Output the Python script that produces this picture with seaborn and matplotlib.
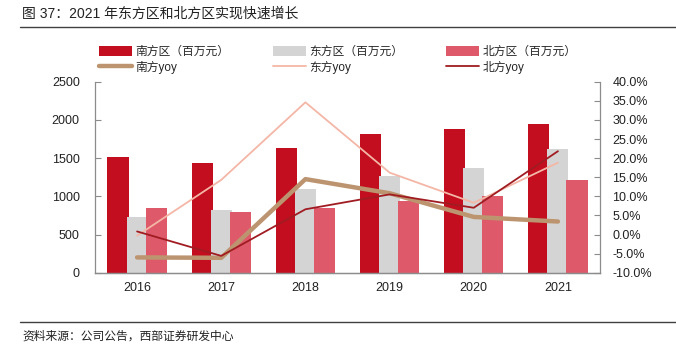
import numpy as np
import pandas as pd
import seaborn as sns
import matplotlib.pyplot as plt
from matplotlib.patches import Patch
from matplotlib.lines import Line2D
from matplotlib.ticker import FuncFormatter, MultipleLocator, FixedLocator

# data
years = ['2016', '2017', '2018', '2019', '2020', '2021']
south_rev = [1519, 1433, 1637, 1812, 1882, 1951]
east_rev = [725, 821, 1096, 1266, 1371, 1624]
north_rev = [843, 794, 847, 939, 1000, 1218]
south_yoy = [-6.0, -6.1, 14.5, 10.8, 4.6, 3.4]
east_yoy = [-0.3, 14.3, 34.6, 16.2, 8.3, 18.8]
north_yoy = [0.8, -5.6, 6.6, 10.5, 7.0, 21.8]

bar_names = ['南方区（百万元）', '东方区（百万元）', '北方区（百万元）']
line_names = ['南方yoy', '东方yoy', '北方yoy']
bar_colors = ['#C20E1E', '#D4D4D4', '#DE5A6B']
line_colors = ['#BC9570', '#F4B6A6', '#A01C22']

sns.set_style('white')
plt.rcParams['font.family'] = ['Liberation Sans', 'Noto Sans CJK SC', 'DejaVu Sans']
plt.rcParams['axes.unicode_minus'] = False

df = pd.DataFrame({
    'year': years * 3,
    'value': south_rev + east_rev + north_rev,
    'area': [bar_names[0]] * 6 + [bar_names[1]] * 6 + [bar_names[2]] * 6,
})

fig = plt.figure(figsize=(6.76, 3.51), dpi=100)
ax = fig.add_axes([95 / 676, 1 - 272.7 / 351, (600 - 95) / 676, (272.7 - 81.7) / 351])

sns.barplot(data=df, x='year', y='value', hue='area', hue_order=bar_names,
            palette=bar_colors, width=0.68, saturation=1, linewidth=0,
            legend=False, ax=ax)
# widen bars slightly so neighbours overlap like the original
for p in ax.patches:
    w = p.get_width()
    p.set_x(p.get_x() - (0.25 - w) / 2)
    p.set_width(0.25)

ax.set_xlim(-0.5, 5.5)
ax.set_ylim(0, 2500)
ax.yaxis.set_major_locator(MultipleLocator(500))
ax.set_xlabel('')
ax.set_ylabel('')

ax2 = ax.twinx()
xpos = np.arange(len(years))
sns.lineplot(x=xpos, y=south_yoy, color=line_colors[0], lw=3.2, ax=ax2)
sns.lineplot(x=xpos, y=east_yoy, color=line_colors[1], lw=1.3, ax=ax2)
sns.lineplot(x=xpos, y=north_yoy, color=line_colors[2], lw=1.3, ax=ax2)
ax2.set_ylim(-10, 40)
ax2.yaxis.set_major_locator(MultipleLocator(5))
ax2.yaxis.set_major_formatter(FuncFormatter(lambda v, _: f'{v:.1f}%'))
ax2.set_xlim(-0.5, 5.5)

spine_c = '#8C8C8C'
for a in (ax, ax2):
    a.spines['top'].set_visible(False)
    for s in ('left', 'right', 'bottom'):
        a.spines[s].set_color(spine_c)
        a.spines[s].set_linewidth(0.9)
ax.spines['right'].set_visible(False)
ax2.spines['left'].set_visible(False)

ax.tick_params(axis='y', direction='in', length=4, color=spine_c, pad=11,
               labelsize=9, labelcolor='#222222')
ax2.tick_params(axis='y', direction='in', length=4, color=spine_c, pad=9,
                labelsize=9, labelcolor='#222222')
ax.tick_params(axis='x', which='major', length=0, pad=7, labelsize=9,
               labelcolor='#222222')
ax.xaxis.set_minor_locator(FixedLocator(np.arange(0.5, 5.5, 1)))
ax.tick_params(axis='x', which='minor', direction='in', length=4, color=spine_c)

handles = []
for i in range(3):
    handles.append(Patch(facecolor=bar_colors[i], edgecolor='none', label=bar_names[i]))
    handles.append(Line2D([], [], color=line_colors[i],
                          lw=3.2 if i == 0 else 1.3, label=line_names[i]))
fig.legend(handles=handles, ncol=3, loc='upper left',
           bbox_to_anchor=(99 / 676, 1 - 46 / 351), frameon=False,
           fontsize=8.5, handlelength=2.8, handleheight=0.9, handletextpad=0.3,
           columnspacing=3.65, labelspacing=0.25, borderpad=0, borderaxespad=0)

fig.text(22 / 676, 1 - 14 / 351, '图 37：2021 年东方区和北方区实现快速增长',
         fontsize=10, va='center', ha='left', color='#222222')
fig.add_artist(Line2D([20 / 676, 1], [1 - 27 / 351] * 2, color='#404040', lw=1))
fig.add_artist(Line2D([20 / 676, 1], [1 - 322 / 351] * 2, color='#404040', lw=1))
fig.text(22 / 676, 1 - 337 / 351, '资料来源：公司公告，西部证券研发中心',
         fontsize=8.5, va='center', ha='left', color='#222222')

fig.savefig('out.png', dpi=100)
